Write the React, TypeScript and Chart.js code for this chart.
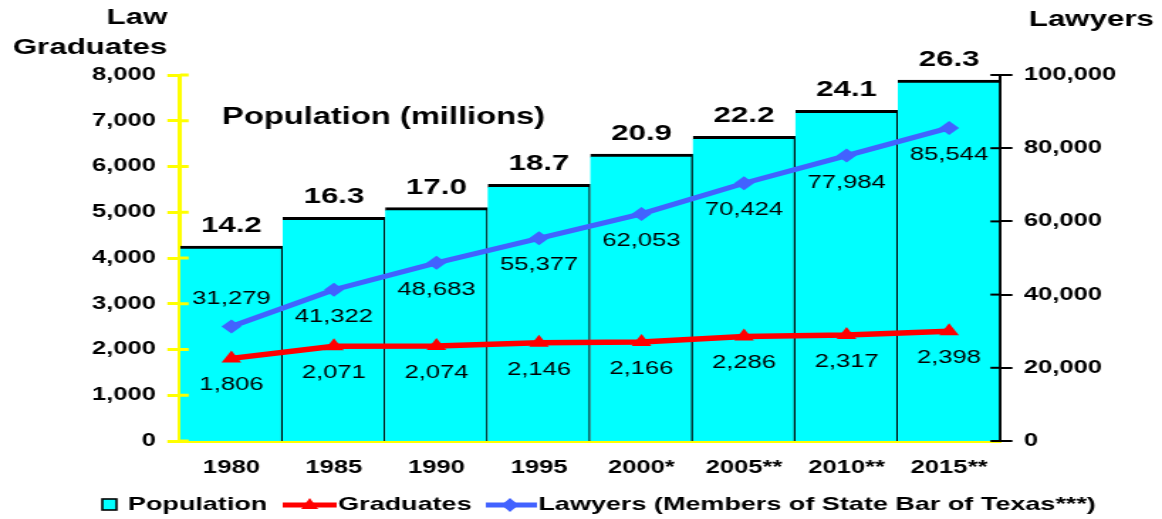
import React, { useEffect, useRef } from 'react';
import { Chart, registerables } from 'chart.js';

Chart.register(...registerables);

// ---- data ----
const years = ['1980', '1985', '1990', '1995', '2000*', '2005**', '2010**', '2015**'];
const population = [14.2, 16.3, 17.0, 18.7, 20.9, 22.2, 24.1, 26.3]; // millions
const graduates = [1806, 2071, 2074, 2146, 2166, 2286, 2317, 2398];
const lawyers = [31279, 41322, 48683, 55377, 62053, 70424, 77984, 85544];
const lawyerLabelAbove = [true, false, false, false, false, false, false, false];

const seriesNames = ['Population', 'Graduates', 'Lawyers (Members of State Bar of Texas***)'];
const axisTitleLeft = ['Law', 'Graduates'];
const axisTitleRight = 'Lawyers';
const populationNote = 'Population (millions)';

const gradAxisMax = 8000;
const gradAxisStep = 1000;
const lawyerAxisMax = 100000;
const lawyerAxisStep = 20000;
const popAxisMax = gradAxisMax / 300; // population bars share the left scale proportion

// ---- styling ----
const FONT = '"Liberation Sans", Arial, Helvetica, sans-serif';
const CYAN = '#00FFFF';
const YELLOW = '#FFFF00';
const RED = '#FF0000';
const BLUE = '#4262FF';
const LOGICAL_W = 818; // drawn narrow, shown stretched like the original
const LOGICAL_H = 519;

const fmt = (v: number) => v.toLocaleString('en-US');

const decorPlugin = {
  id: 'decor',
  afterDatasetsDraw(chart: any) {
    const ctx = chart.ctx as CanvasRenderingContext2D;
    ctx.save();
    ctx.fillStyle = '#000';
    ctx.textAlign = 'center';
    ctx.textBaseline = 'middle';
    ctx.font = `bold 22px ${FONT}`;
    chart.getDatasetMeta(0).data.forEach((el: any, i: number) => {
      ctx.fillText(population[i].toFixed(1), el.x, el.y - 20);
    });
    ctx.font = `18px ${FONT}`;
    chart.getDatasetMeta(1).data.forEach((el: any, i: number) => {
      ctx.fillText(fmt(graduates[i]), el.x, el.y + 27);
    });
    chart.getDatasetMeta(2).data.forEach((el: any, i: number) => {
      ctx.fillText(fmt(lawyers[i]), el.x, lawyerLabelAbove[i] ? el.y - 27 : el.y + 27);
    });
    ctx.restore();
  },
  afterDraw(chart: any) {
    const ctx = chart.ctx as CanvasRenderingContext2D;
    const { left, right } = chart.chartArea;
    ctx.save();
    // inner halves of the axis tick marks
    const yS = chart.scales.y;
    ctx.strokeStyle = YELLOW;
    ctx.lineWidth = 3;
    yS.ticks.forEach((_t: any, i: number) => {
      const py = yS.getPixelForTick(i);
      ctx.beginPath();
      ctx.moveTo(left, py);
      ctx.lineTo(left + 6, py);
      ctx.stroke();
    });
    const rS = chart.scales.y1;
    ctx.strokeStyle = '#000';
    ctx.lineWidth = 2;
    rS.ticks.forEach((_t: any, i: number) => {
      const py = rS.getPixelForTick(i);
      ctx.beginPath();
      ctx.moveTo(right - 7, py);
      ctx.lineTo(right, py);
      ctx.stroke();
    });

    // titles
    ctx.fillStyle = '#000';
    ctx.textBaseline = 'middle';
    ctx.font = `bold 22px ${FONT}`;
    ctx.textAlign = 'right';
    ctx.fillText(axisTitleLeft[0], left - 9, 18);
    ctx.fillText(axisTitleLeft[1], left - 9, 48);
    ctx.textAlign = 'left';
    ctx.fillText(axisTitleRight, right + 20, 20);
    ctx.textAlign = 'center';
    ctx.font = `bold 23px ${FONT}`;
    ctx.fillText(populationNote, 270, 118);

    // legend
    const ly = 505;
    ctx.font = `bold 19px ${FONT}`;
    ctx.textAlign = 'left';
    // population box
    ctx.fillStyle = CYAN;
    ctx.fillRect(72, 499, 10, 11);
    ctx.strokeStyle = '#000';
    ctx.lineWidth = 1.6;
    ctx.strokeRect(72, 499, 10, 11);
    ctx.fillStyle = '#000';
    ctx.fillText(chart.data.datasets[0].label, 90, ly);
    // graduates line + triangle
    ctx.strokeStyle = RED;
    ctx.lineWidth = 5;
    ctx.beginPath();
    ctx.moveTo(199, ly);
    ctx.lineTo(237, ly);
    ctx.stroke();
    ctx.fillStyle = RED;
    ctx.beginPath();
    ctx.moveTo(218, ly - 7);
    ctx.lineTo(224, ly + 4);
    ctx.lineTo(212, ly + 4);
    ctx.closePath();
    ctx.fill();
    ctx.fillStyle = '#000';
    ctx.fillText(chart.data.datasets[1].label, 238, ly);
    // lawyers line + diamond
    ctx.strokeStyle = BLUE;
    ctx.beginPath();
    ctx.moveTo(342, ly);
    ctx.lineTo(378, ly);
    ctx.stroke();
    ctx.fillStyle = BLUE;
    ctx.beginPath();
    ctx.moveTo(359, ly - 7);
    ctx.lineTo(365, ly);
    ctx.lineTo(359, ly + 7);
    ctx.lineTo(353, ly);
    ctx.closePath();
    ctx.fill();
    ctx.fillStyle = '#000';
    ctx.fillText(chart.data.datasets[2].label, 379, ly);
    ctx.restore();
  },
};

export default function App() {
  const canvasRef = useRef<HTMLCanvasElement | null>(null);

  useEffect(() => {
    const canvas = canvasRef.current;
    if (!canvas) return;
    Chart.defaults.font.family = FONT;
    const chart = new Chart(canvas, {
      type: 'bar',
      data: {
        labels: years,
        datasets: [
          {
            type: 'bar',
            label: seriesNames[0],
            data: population,
            yAxisID: 'yPop',
            backgroundColor: CYAN,
            borderColor: '#000',
            borderWidth: { top: 3, right: 1.4, left: 0, bottom: 0 },
            borderSkipped: false,
            categoryPercentage: 1,
            barPercentage: 1,
            order: 3,
          },
          {
            type: 'line',
            label: seriesNames[1],
            data: graduates,
            yAxisID: 'y',
            borderColor: RED,
            backgroundColor: RED,
            borderWidth: 5.5,
            pointStyle: 'triangle',
            pointRadius: 8,
            pointBorderWidth: 0,
            pointBackgroundColor: RED,
            order: 2,
          },
          {
            type: 'line',
            label: seriesNames[2],
            data: lawyers,
            yAxisID: 'y1',
            borderColor: BLUE,
            backgroundColor: BLUE,
            borderWidth: 5,
            pointStyle: 'rectRot',
            pointRadius: 7,
            pointBorderWidth: 0,
            pointBackgroundColor: BLUE,
            order: 1,
          },
        ],
      } as any,
      options: {
        responsive: false,
        devicePixelRatio: 1,
        animation: false,
        layout: { padding: { top: 75, left: 0, right: 0, bottom: 0 } },
        plugins: {
          legend: { display: false },
          tooltip: { enabled: false },
          title: { display: false },
        },
        scales: {
          x: {
            type: 'category',
            offset: true,
            z: 1,
            grid: { display: false, drawTicks: false },
            border: { display: true, color: YELLOW, width: 3 },
            ticks: {
              color: '#000',
              font: { size: 18, weight: 'bold' },
              padding: 16,
              maxRotation: 0,
              autoSkip: false,
            },
            afterFit: (s: any) => {
              s.height = 78;
            },
          },
          y: {
            position: 'left',
            min: 0,
            max: gradAxisMax,
            z: 1,
            grid: { drawOnChartArea: false, color: YELLOW, lineWidth: 3, tickLength: 9 },
            border: { color: YELLOW, width: 3 },
            ticks: {
              stepSize: gradAxisStep,
              color: '#000',
              font: { size: 18, weight: 'bold' },
              padding: 8,
              callback: (v: any) => fmt(Number(v)),
            },
            afterFit: (s: any) => {
              s.width = 126.8;
            },
          },
          y1: {
            position: 'right',
            min: 0,
            max: lawyerAxisMax,
            z: 1,
            grid: { drawOnChartArea: false, color: '#000', lineWidth: 2, tickLength: 8.5 },
            border: { color: '#000', width: 2 },
            ticks: {
              stepSize: lawyerAxisStep,
              color: '#000',
              font: { size: 18, weight: 'bold' },
              padding: 8,
              callback: (v: any) => fmt(Number(v)),
            },
            afterFit: (s: any) => {
              s.width = LOGICAL_W - 704.2;
            },
          },
          yPop: {
            display: false,
            min: 0,
            max: popAxisMax,
          },
        },
      } as any,
      plugins: [decorPlugin],
    });
    return () => chart.destroy();
  }, []);

  return (
    <canvas
      ref={canvasRef}
      width={LOGICAL_W}
      height={LOGICAL_H}
      style={{ position: 'fixed', left: 0, top: 0, width: '1162px', height: '519px', display: 'block' }}
    />
  );
}
